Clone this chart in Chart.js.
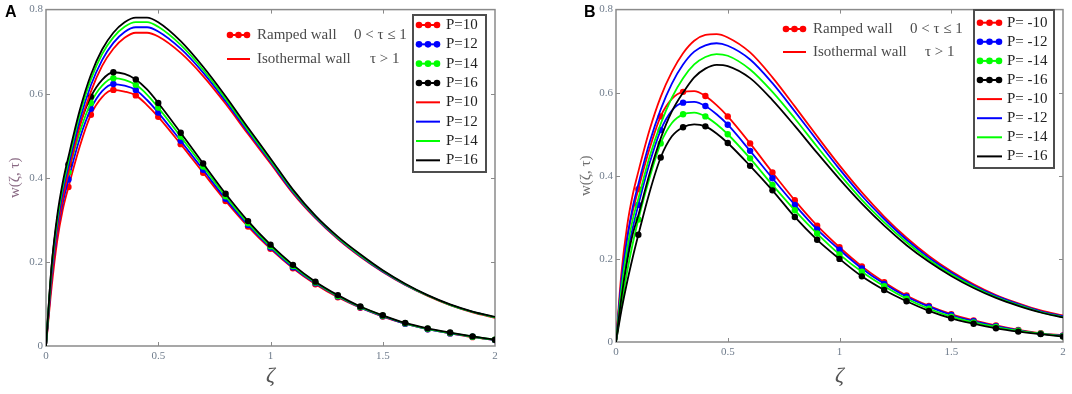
<!DOCTYPE html>
<html>
<head>
<meta charset="utf-8">
<script src="https://cdn.jsdelivr.net/npm/chart.js@4.4.0/dist/chart.umd.min.js"></script>
<style>
  body { margin: 0; background: #fff; width: 1072px; height: 394px; overflow: hidden; position: relative; }
  .panel { position: absolute; top: 0; width: 536px; height: 394px; }
  .tag { position: absolute; top: 3px; font: bold 16px "Liberation Sans", Arial, sans-serif; color: #000; }
</style>
</head>
<body>
<div class="panel" style="left:0"><canvas id="chartA" width="536" height="394"></canvas></div>
<div class="panel" style="left:536px"><canvas id="chartB" width="536" height="394"></canvas></div>
<div class="tag" style="left:5px">A</div>
<div class="tag" style="left:584px">B</div>
<script>
// zeta grid the curves were read at, markers sit every 0.1
const zeta = [0, 0.025, 0.05, 0.075, 0.1, 0.15, 0.2, 0.25, 0.3, 0.35, 0.4, 0.45, 0.5, 0.6, 0.7, 0.8, 0.9, 1.0, 1.1, 1.2, 1.3, 1.4, 1.5, 1.6, 1.7, 1.8, 1.9, 2.0];
const markerZeta = [0.1, 0.2, 0.3, 0.4, 0.5, 0.6, 0.7, 0.8, 0.9, 1.0, 1.1, 1.2, 1.3, 1.4, 1.5, 1.6, 1.7, 1.8, 1.9, 2.0];
const xTicks = [0, 0.5, 1, 1.5, 2];
const yTicks = [0, 0.2, 0.4, 0.6, 0.8];

const labelsA = ['P=10', 'P=12', 'P=14', 'P=16'];
const labelsB = ['P= -10', 'P= -12', 'P= -14', 'P= -16'];
const colors = ['#ff0000', '#0000ff', '#00ff00', '#000000'];

// panel A, ramped wall (0 < tau <= 1)
const rampA10 = [0, 0.14, 0.25, 0.325, 0.378, 0.474, 0.55, 0.592, 0.609, 0.605, 0.596, 0.573, 0.545, 0.48, 0.412, 0.345, 0.284, 0.231, 0.185, 0.147, 0.116, 0.091, 0.07, 0.053, 0.04, 0.03, 0.021, 0.014];
const rampA12 = [0, 0.158, 0.267, 0.341, 0.396, 0.493, 0.564, 0.606, 0.623, 0.619, 0.609, 0.585, 0.555, 0.488, 0.419, 0.35, 0.288, 0.234, 0.187, 0.149, 0.118, 0.092, 0.071, 0.053, 0.04, 0.03, 0.022, 0.014];
const rampA14 = [0, 0.175, 0.283, 0.357, 0.413, 0.508, 0.578, 0.619, 0.637, 0.633, 0.621, 0.598, 0.567, 0.498, 0.427, 0.356, 0.292, 0.237, 0.19, 0.151, 0.119, 0.093, 0.072, 0.054, 0.041, 0.031, 0.022, 0.015];
const rampA16 = [0, 0.19, 0.3, 0.375, 0.432, 0.525, 0.593, 0.633, 0.651, 0.647, 0.634, 0.61, 0.578, 0.507, 0.434, 0.362, 0.297, 0.241, 0.193, 0.153, 0.121, 0.094, 0.073, 0.055, 0.042, 0.032, 0.023, 0.015];
// panel A, isothermal wall (tau > 1)
const isoA10 = [0, 0.16, 0.272, 0.352, 0.412, 0.522, 0.605, 0.666, 0.707, 0.733, 0.745, 0.745, 0.736, 0.697, 0.642, 0.576, 0.504, 0.434, 0.363, 0.304, 0.254, 0.212, 0.176, 0.145, 0.119, 0.097, 0.08, 0.067];
const isoA12 = [0, 0.172, 0.288, 0.368, 0.428, 0.537, 0.62, 0.68, 0.721, 0.747, 0.758, 0.758, 0.748, 0.707, 0.65, 0.582, 0.509, 0.438, 0.366, 0.306, 0.256, 0.214, 0.177, 0.146, 0.12, 0.098, 0.081, 0.068];
const isoA14 = [0, 0.182, 0.3, 0.38, 0.44, 0.55, 0.634, 0.694, 0.734, 0.759, 0.77, 0.77, 0.759, 0.716, 0.657, 0.588, 0.514, 0.442, 0.369, 0.308, 0.258, 0.216, 0.179, 0.147, 0.12, 0.098, 0.081, 0.068];
const isoA16 = [0, 0.19, 0.31, 0.39, 0.45, 0.56, 0.645, 0.705, 0.745, 0.77, 0.781, 0.781, 0.77, 0.725, 0.664, 0.594, 0.519, 0.446, 0.372, 0.31, 0.26, 0.218, 0.18, 0.148, 0.121, 0.099, 0.082, 0.069];

// panel B, ramped wall
const rampB10 = [0, 0.145, 0.25, 0.315, 0.368, 0.465, 0.543, 0.585, 0.602, 0.604, 0.592, 0.57, 0.543, 0.478, 0.408, 0.341, 0.28, 0.228, 0.182, 0.144, 0.112, 0.087, 0.067, 0.052, 0.04, 0.029, 0.021, 0.016];
const rampB12 = [0, 0.115, 0.21, 0.275, 0.33, 0.43, 0.51, 0.557, 0.576, 0.578, 0.568, 0.548, 0.523, 0.46, 0.394, 0.33, 0.271, 0.222, 0.177, 0.14, 0.109, 0.085, 0.065, 0.05, 0.038, 0.028, 0.02, 0.015];
const rampB14 = [0, 0.09, 0.17, 0.237, 0.295, 0.395, 0.478, 0.527, 0.548, 0.552, 0.543, 0.524, 0.5, 0.442, 0.378, 0.317, 0.261, 0.211, 0.169, 0.134, 0.104, 0.08, 0.061, 0.047, 0.036, 0.027, 0.02, 0.014];
const rampB16 = [0, 0.078, 0.145, 0.204, 0.258, 0.36, 0.444, 0.495, 0.517, 0.524, 0.519, 0.502, 0.479, 0.424, 0.365, 0.301, 0.246, 0.2, 0.158, 0.125, 0.098, 0.075, 0.057, 0.044, 0.033, 0.025, 0.019, 0.013];
// panel B, isothermal wall
const isoB10 = [0, 0.17, 0.28, 0.355, 0.41, 0.51, 0.59, 0.65, 0.695, 0.725, 0.739, 0.741, 0.733, 0.697, 0.637, 0.567, 0.495, 0.425, 0.36, 0.302, 0.251, 0.207, 0.17, 0.139, 0.113, 0.093, 0.076, 0.064];
const isoB12 = [0, 0.15, 0.25, 0.325, 0.38, 0.48, 0.56, 0.622, 0.668, 0.699, 0.714, 0.719, 0.713, 0.68, 0.623, 0.555, 0.485, 0.416, 0.352, 0.296, 0.246, 0.203, 0.167, 0.136, 0.111, 0.091, 0.074, 0.062];
const isoB14 = [0, 0.13, 0.225, 0.295, 0.345, 0.445, 0.525, 0.588, 0.635, 0.668, 0.686, 0.693, 0.689, 0.656, 0.602, 0.538, 0.47, 0.404, 0.342, 0.288, 0.24, 0.198, 0.163, 0.133, 0.108, 0.089, 0.072, 0.06];
const isoB16 = [0, 0.11, 0.195, 0.26, 0.305, 0.405, 0.49, 0.555, 0.6, 0.637, 0.658, 0.667, 0.664, 0.635, 0.582, 0.52, 0.455, 0.392, 0.333, 0.28, 0.233, 0.193, 0.159, 0.13, 0.106, 0.087, 0.071, 0.059];

const rampedText = 'Ramped wall';
const rampedCond = '0 < τ ≤ 1';
const isoText = 'Isothermal wall';
const isoCond = 'τ > 1';

function series(ys) {
  return zeta.map(function (x, i) { return { x: x, y: ys[i] }; });
}

function buildDatasets(ramped, iso, labels) {
  var sets = [];
  ramped.forEach(function (ys, i) {
    sets.push({
      label: labels[i], data: series(ys), marker: true,
      borderColor: colors[i], backgroundColor: colors[i], borderWidth: 1.8,
      pointRadius: function (c) { return markerZeta.indexOf(zeta[c.dataIndex]) >= 0 ? 3.2 : 0; },
      pointBorderWidth: 0, cubicInterpolationMode: 'monotone', order: 7 - i
    });
  });
  iso.forEach(function (ys, i) {
    sets.push({
      label: labels[i], data: series(ys), marker: false,
      borderColor: colors[i], backgroundColor: colors[i], borderWidth: 1.8,
      pointRadius: 0, cubicInterpolationMode: 'monotone', order: 3 - i
    });
  });
  return sets;
}

// plot frame with small inward ticks on all four sides
const framePlugin = {
  id: 'frame',
  beforeDatasetsDraw: function (chart) {
    var a = chart.chartArea, ctx = chart.ctx;
    var xs = chart.scales.x, ys = chart.scales.y;
    ctx.save();
    ctx.strokeStyle = '#8a8a8a';
    ctx.lineWidth = 1.5;
    ctx.strokeRect(a.left, a.top, a.right - a.left, a.bottom - a.top);
    ctx.lineWidth = 1;
    ctx.beginPath();
    xTicks.slice(1, -1).forEach(function (v) {
      var px = Math.round(xs.getPixelForValue(v)) + 0.5;
      ctx.moveTo(px, a.bottom); ctx.lineTo(px, a.bottom - 4);
      ctx.moveTo(px, a.top); ctx.lineTo(px, a.top + 4);
    });
    yTicks.slice(1, -1).forEach(function (v) {
      var py = Math.round(ys.getPixelForValue(v)) + 0.5;
      ctx.moveTo(a.left, py); ctx.lineTo(a.left + 4, py);
      ctx.moveTo(a.right, py); ctx.lineTo(a.right - 4, py);
    });
    ctx.stroke();
    ctx.restore();
  }
};

function drawSample(ctx, color, x0, x1, y, dots) {
  ctx.strokeStyle = color;
  ctx.lineWidth = 2;
  ctx.beginPath(); ctx.moveTo(x0, y); ctx.lineTo(x1, y); ctx.stroke();
  if (dots) {
    ctx.fillStyle = color;
    [x0 + 3, (x0 + x1) / 2, x1 - 3].forEach(function (cx) {
      ctx.beginPath(); ctx.arc(cx, y, 3.3, 0, Math.PI * 2); ctx.fill();
    });
  }
}

// boxed legend + the two wall-condition notes
const boxLegend = {
  id: 'boxLegend',
  afterDraw: function (chart, args, o) {
    var ctx = chart.ctx;
    ctx.save();
    ctx.font = '15px "Liberation Serif", "Times New Roman", serif';
    ctx.textBaseline = 'middle';
    // notes
    drawSample(ctx, colors[0], o.noteX0, o.noteX1, o.noteY[0], true);
    drawSample(ctx, colors[0], o.noteX0, o.noteX1, o.noteY[1], false);
    ctx.fillStyle = '#4a4a4a';
    ctx.fillText(rampedText, o.noteText, o.noteY[0]);
    ctx.fillText(isoText, o.noteText, o.noteY[1]);
    ctx.fillText(rampedCond, o.condX[0], o.noteY[0]);
    ctx.fillText(isoCond, o.condX[1], o.noteY[1]);
    // box
    ctx.fillStyle = '#fff';
    ctx.fillRect(o.box[0], o.box[1], o.box[2], o.box[3]);
    ctx.strokeStyle = '#4d4d4d';
    ctx.lineWidth = 2;
    ctx.strokeRect(o.box[0], o.box[1], o.box[2], o.box[3]);
    chart.data.datasets.forEach(function (ds, i) {
      var y = o.rowTop + i * o.rowStep;
      drawSample(ctx, ds.borderColor, o.sx0, o.sx1, y, ds.marker);
      ctx.fillStyle = '#222';
      ctx.fillText(ds.label, o.tx, y);
    });
    ctx.restore();
  }
};

function makeChart(id, datasets, lay) {
  var tickFont = { family: '"Liberation Serif", "Times New Roman", serif', size: 11 };
  return new Chart(document.getElementById(id).getContext('2d'), {
    type: 'line',
    data: { datasets: datasets },
    plugins: [framePlugin, boxLegend],
    options: {
      responsive: false,
      animation: false,
      layout: { padding: lay.padding },
      plugins: {
        legend: { display: false },
        tooltip: { enabled: false },
        boxLegend: lay.legend
      },
      scales: {
        x: {
          type: 'linear', min: 0, max: 2,
          afterBuildTicks: function (s) { s.ticks = xTicks.map(function (v) { return { value: v }; }); },
          ticks: { color: '#6f7c8c', font: tickFont, padding: 4, maxRotation: 0, callback: function (v) { return String(v); } },
          grid: { display: false, drawTicks: false },
          border: { display: false },
          title: { display: true, text: 'ζ', color: '#555', font: { family: '"Liberation Serif", serif', size: 22, style: 'italic' }, padding: { top: 0, bottom: lay.xTitlePad } },
          afterFit: function (s) { s.height = lay.xHeight; }
        },
        y: {
          type: 'linear', min: 0, max: 0.8,
          afterBuildTicks: function (s) { s.ticks = yTicks.map(function (v) { return { value: v }; }); },
          ticks: { color: '#6f7c8c', font: tickFont, padding: 3, callback: function (v) { return String(v); } },
          grid: { display: false, drawTicks: false },
          border: { display: false },
          title: { display: true, text: 'w(ζ, τ)', color: lay.yTitleColor, font: { family: '"Liberation Serif", serif', size: 15 }, padding: { top: lay.yTitlePad, bottom: 0 } },
          afterFit: function (s) { s.width = 46; }
        }
      }
    }
  });
}

makeChart('chartA', buildDatasets([rampA10, rampA12, rampA14, rampA16], [isoA10, isoA12, isoA14, isoA16], labelsA), {
  padding: { left: 0, right: 41, top: 8, bottom: 0 },
  xHeight: 48, xTitlePad: 5, yTitlePad: 6, yTitleColor: '#8a6a84',
  legend: {
    box: [413, 15, 73, 157], rowTop: 25, rowStep: 19.33, sx0: 416, sx1: 440, tx: 446,
    noteX0: 227, noteX1: 250, noteText: 257, noteY: [35, 59], condX: [354, 370]
  }
});

makeChart('chartB', buildDatasets([rampB10, rampB12, rampB14, rampB16], [isoB10, isoB12, isoB14, isoB16], labelsB), {
  padding: { left: 34, right: 9, top: 6, bottom: 0 },
  xHeight: 52, xTitlePad: 5, yTitlePad: 7, yTitleColor: '#6e6e6e',
  legend: {
    box: [438, 10, 80, 158], rowTop: 22.7, rowStep: 19.1, sx0: 441, sx1: 466, tx: 471,
    noteX0: 247, noteX1: 270, noteText: 277, noteY: [29, 52], condX: [374, 389]
  }
});
</script>
</body>
</html>
